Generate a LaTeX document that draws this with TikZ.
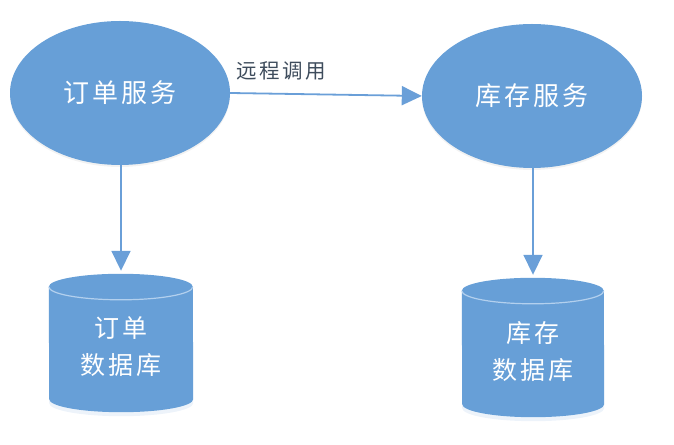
\documentclass[tikz,border=0pt]{standalone}
\usepackage{fontspec}
\newfontfamily\cjk[LetterSpace=12]{Noto Sans CJK SC}
\usetikzlibrary{shapes.geometric,arrows.meta,calc,shadows}
\definecolor{nodeblue}{HTML}{679FD7}
\definecolor{lineblue}{HTML}{6A9FD8}
\definecolor{rimblue}{HTML}{B3D0EE}
\definecolor{labelgray}{HTML}{3E4C5C}
\newcommand\mydbcyl[2]{%
  \fill[nodeblue, drop shadow={opacity=0.12,shadow xshift=0pt,shadow yshift=-4pt,fill=lineblue}]
    ($(#1.north west)+(0,-13)$) arc[start angle=180,end angle=0,x radius=#2,y radius=13]
    -- ($(#1.south east)+(0,13)$) arc[start angle=0,end angle=-180,x radius=#2,y radius=13]
    -- cycle;
  \draw[rimblue, line width=1.2pt]
    ($(#1.north west)+(0,-13)$) arc[start angle=180,end angle=360,x radius=#2,y radius=13];
}
\begin{document}
\begin{tikzpicture}[x=1pt,y=1pt,
  svc/.style={ellipse, fill=nodeblue, minimum width=220pt, minimum height=144pt,
    inner sep=0pt, text=white, font=\cjk\fontsize{26}{30}\selectfont,
    drop shadow={opacity=0.1,shadow xshift=0pt,shadow yshift=-2pt}},
  dbbox/.style={rectangle, inner sep=0pt, minimum height=138pt},
  dbtext/.style={text=white, align=center, font=\cjk\fontsize{25}{37}\selectfont},
  conn/.style={draw=lineblue, line width=1.8pt,
    -{Triangle[length=20pt,width=19pt]}, shorten >=3pt},
  lbl/.style={text=labelgray, font=\cjk\fontsize{20.5}{24}\selectfont}
]
\useasboundingbox (0,0) rectangle (674,444);
\node[svc] (lsvc) at (120,351) {订单服务};
\node[svc] (rsvc) at (532,348) {库存服务};
\node[dbbox, minimum width=144pt] (ldb) at (121,101) {};
\node[dbbox, minimum width=142pt, minimum height=139pt] (rdb) at (533,96.5) {};
\mydbcyl{ldb}{72}
\mydbcyl{rdb}{71}
\node[dbtext] (ldbt) at ($(ldb.center)+(0,-4)$) {订单\\数据库};
\node[dbtext] (rdbt) at ($(rdb.center)+(0,-4)$) {库存\\数据库};
\draw[conn, shorten >=0pt] (lsvc.east) -- (rsvc.west);
\node[lbl] (call) at (281,373) {远程调用};
\draw[conn] (lsvc.south -| ldb.north) -- (ldb.north);
\draw[conn] (rsvc.south -| rdb.north) -- (rdb.north);
\end{tikzpicture}
\end{document}
